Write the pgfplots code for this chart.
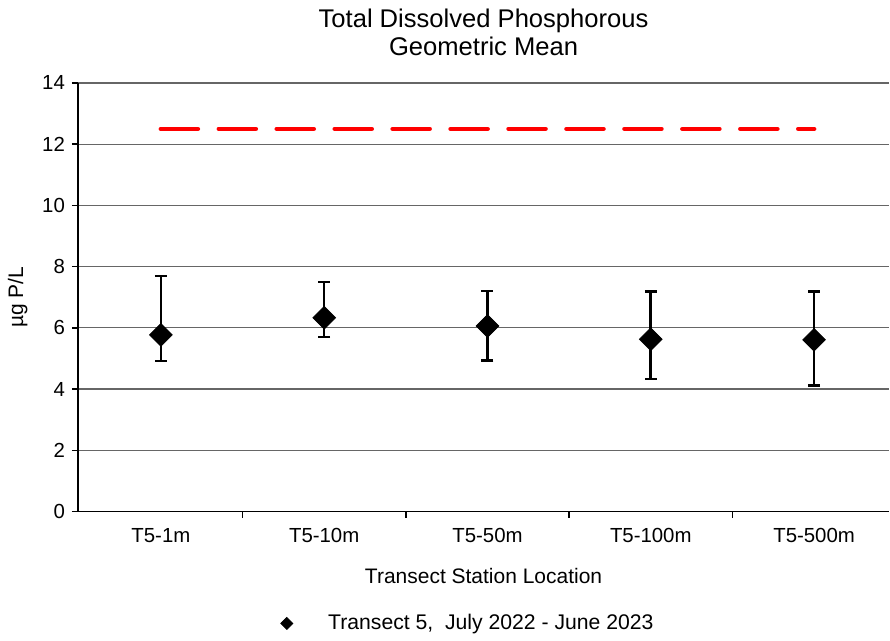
\documentclass[border=0pt]{standalone}
\usepackage{fontspec}
\setmainfont{Liberation Sans}
\usepackage{pgfplots}
\pgfplotsset{compat=1.18}
\begin{document}
\begin{tikzpicture}
\begin{axis}[
  at={(0pt,0pt)}, anchor=south west,
  scale only axis, width=406pt, height=214.5pt,
  xmin=-0.508, xmax=4.46, ymin=0, ymax=14,
  axis x line*=bottom, axis y line*=left,
  axis line style={black, line width=0.8pt},
  xtick={0,1,2,3,4},
  xticklabels={T5-1m,T5-10m,T5-50m,T5-100m,T5-500m},
  minor xtick={0.5,1.5,2.5,3.5},
  major x tick style={draw=none},
  minor tick length=3pt,
  ytick={0,2,...,14},
  major tick length=3pt,
  tick align=outside,
  tick style={black, line width=0.8pt},
  ymajorgrids, grid style={gray!80!black, line width=0.6pt},
  /pgf/number format/assume math mode=true,
  tick label style={font=\fontsize{10.2}{12}\selectfont},
  xticklabel style={yshift=-2pt},
  xlabel={Transect Station Location},
  ylabel={µg P/L},
  label style={font=\fontsize{10.5}{12}\selectfont},
  xlabel style={yshift=-6pt},
  ylabel style={yshift=0.5pt},
  title={Total Dissolved Phosphorous\\Geometric Mean},
  title style={align=center, font=\fontsize{12.8}{14}\selectfont, yshift=4pt},
  legend style={at={(0.482,-0.261)}, anchor=center, draw=none, fill=none,
    font=\fontsize{10.6}{12}\selectfont},
  legend image code/.code={\path[fill=black] (0pt,0pt) -- (3pt,3pt) -- (6pt,0pt) -- (3pt,-3pt) -- cycle; \path (21.5pt,0pt);},
]
\addplot[red, line width=2.3pt, line cap=round, dash pattern=on 18.5pt off 10.5pt, forget plot] coordinates {(0,12.5) (4,12.5)};
\addplot[
  only marks, mark=square*, mark size=4pt, mark options={rotate=45, fill=black, draw=black},
  error bars/.cd, y dir=both, y explicit,
  error bar style={black, line width=1.3pt},
  error mark options={rotate=90, mark size=3pt, line width=1.3pt, black},
] coordinates {
  (0,5.77) +=(0,1.93) -=(0,0.85)
  (1,6.33) +=(0,1.17) -=(0,0.63)
  (2,6.06) +=(0,1.14) -=(0,1.13)
  (3,5.63) +=(0,1.56) -=(0,1.30)
  (4,5.61) +=(0,1.58) -=(0,1.50)
};
\addlegendentry{Transect 5,~ July 2022 - June 2023}
\end{axis}
\path[use as bounding box] (-39pt,-62.5pt) rectangle (406pt,256pt);
\end{tikzpicture}
\end{document}
